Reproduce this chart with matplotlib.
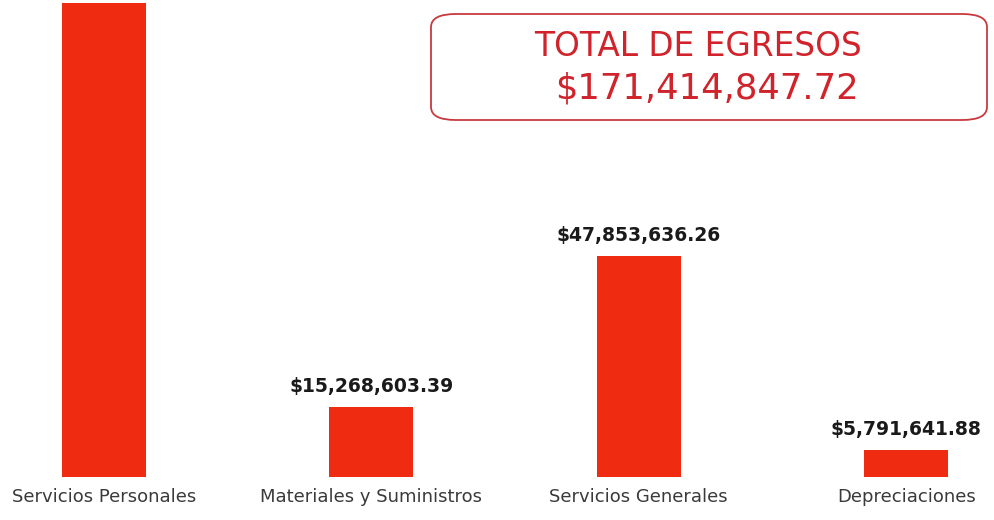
import matplotlib
matplotlib.use("Agg")
import matplotlib.pyplot as plt
from matplotlib.patches import FancyBboxPatch

categories = ["Servicios Personales", "Materiales y Suministros", "Servicios Generales", "Depreciaciones"]
values = [102500966.19, 15268603.39, 47853636.26, 5791641.88]
value_labels = [None, "$15,268,603.39", "$47,853,636.26", "$5,791,641.88"]
total_title = "TOTAL DE EGRESOS"
total_value = "$171,414,847.72"

W, H, DPI = 994, 520, 100
fig = plt.figure(figsize=(W / DPI, H / DPI), dpi=DPI)
fig.patch.set_facecolor("white")

base_px = 477.3
ax = fig.add_axes([0, (H - base_px) / H, 1, base_px / H])
ax.set_facecolor("none")
x = list(range(len(categories)))
ax.bar(x, values, width=0.314, color="#EF2B12", edgecolor="none")
ax.set_xlim(-0.388, 3.328)
ax.set_ylim(0, 103.1e6)
ax.axis("off")

for xi, v, lab in zip(x, values, value_labels):
    if lab:
        ax.annotate(lab, (xi, v), xytext=(0, 14.8), textcoords="offset points",
                    ha="center", va="center", fontsize=13.5, fontweight="bold",
                    color="#1a1a1a", family="DejaVu Sans")
for xi, c in zip(x, categories):
    ax.annotate(c, (xi, 0), xytext=(0, -14.5), textcoords="offset points",
                ha="center", va="center", fontsize=13, color="#3a3a3a",
                family="DejaVu Sans", annotation_clip=False)

# Total box
bx0, bx1, by0, by1 = 431, 987, 14, 120
box = FancyBboxPatch((bx0 / W, 1 - by1 / H), (bx1 - bx0) / W, (by1 - by0) / H,
                     boxstyle="round,pad=0,rounding_size=0.025",
                     transform=fig.transFigure, facecolor="white",
                     edgecolor="#C83A40", linewidth=1.3)
fig.patches.append(box)
fig.text(698.5 / W, 1 - 47 / H, total_title, ha="center", va="center",
         fontsize=23.6, color="#D0232B", family="DejaVu Sans")
fig.text(707 / W, 1 - 88 / H, total_value, ha="center", va="center",
         fontsize=25.5, color="#D0232B", family="DejaVu Sans")

fig.savefig("out.png", dpi=DPI, facecolor="white")
